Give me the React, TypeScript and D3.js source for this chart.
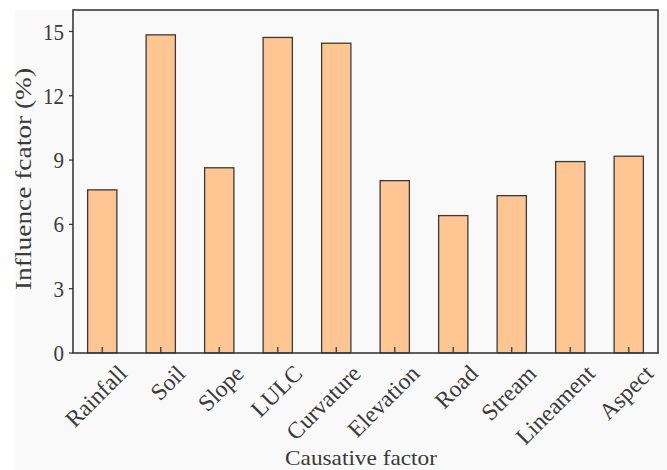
import * as d3 from "d3";
import { useRef, useEffect } from "react";

const categories = ["Rainfall", "Soil", "Slope", "LULC", "Curvature", "Elevation", "Road", "Stream", "Lineament", "Aspect"];
const values = [7.61, 14.84, 8.64, 14.72, 14.45, 8.04, 6.41, 7.34, 8.93, 9.18];
const yTicks = [0, 3, 6, 9, 12, 15];

const W = 667;
const H = 470;
const margin = { left: 73, right: 9, top: 10, bottom: 117 };

const App = () => {
  const ref = useRef<SVGSVGElement>(null);

  useEffect(() => {
    const svg = d3.select(ref.current);
    svg.selectAll("*").remove();

    const x0 = margin.left;
    const x1 = W - margin.right;
    const y0 = H - margin.bottom;
    const y1 = margin.top;

    const x = d3.scaleBand<string>()
      .domain(categories)
      .range([x0, x1])
      .paddingInner(0.5)
      .paddingOuter(0.25);

    const y = d3.scaleLinear().domain([0, 16]).range([y0, y1]);

    const font = "'Liberation Serif', 'Times New Roman', serif";
    const ink = "#3a3a3a";

    // background
    svg.append("rect").attr("width", W).attr("height", H).attr("fill", "#ffffff");
    svg.append("rect")
      .attr("x", 15).attr("y", y1)
      .attr("width", W - 15).attr("height", H - y1)
      .attr("fill", "#f9f9f9");

    // bars
    svg.append("g")
      .selectAll("rect")
      .data(values)
      .join("rect")
      .attr("x", (d, i) => x(categories[i])!)
      .attr("y", d => y(d))
      .attr("width", x.bandwidth())
      .attr("height", d => y(0) - y(d))
      .attr("fill", "#ffc592")
      .attr("stroke", ink)
      .attr("stroke-width", 1.3);

    // x ticks (inward)
    svg.append("g")
      .selectAll("line")
      .data(categories)
      .join("line")
      .attr("x1", d => x(d)! + x.bandwidth() / 2)
      .attr("x2", d => x(d)! + x.bandwidth() / 2)
      .attr("y1", y0)
      .attr("y2", y0 - 6)
      .attr("stroke", ink)
      .attr("stroke-width", 1.3);

    // y axis ticks (outward) and labels
    const yAxis = svg.append("g");
    yAxis.selectAll("line")
      .data(yTicks)
      .join("line")
      .attr("x1", x0 - 4)
      .attr("x2", x0)
      .attr("y1", d => y(d))
      .attr("y2", d => y(d))
      .attr("stroke", ink)
      .attr("stroke-width", 1.3);
    yAxis.selectAll("text")
      .data(yTicks)
      .join("text")
      .attr("transform", d => `translate(${x0 - 9},${y(d)}) scale(1,1.1)`)
      .attr("dy", "0.35em")
      .attr("text-anchor", "end")
      .attr("font-family", font)
      .attr("font-size", 21)
      .attr("fill", ink)
      .text(d => d);

    // frame
    svg.append("rect")
      .attr("x", x0).attr("y", y1)
      .attr("width", x1 - x0).attr("height", y0 - y1)
      .attr("fill", "none")
      .attr("stroke", ink)
      .attr("stroke-width", 1.6);

    // rotated category labels
    svg.append("g")
      .selectAll("text")
      .data(categories)
      .join("text")
      .attr("transform", d => `translate(${x(d)! + x.bandwidth() / 2 + 26},${y0 + 22}) rotate(-45)`)
      .attr("text-anchor", "end")
      .attr("font-family", font)
      .attr("font-size", 23.5)
      .attr("fill", ink)
      .text(d => d);

    // axis titles
    svg.append("text")
      .attr("x", 361)
      .attr("y", 465)
      .attr("text-anchor", "middle")
      .attr("font-family", font)
      .attr("font-size", 21)
      .attr("textLength", 152)
      .attr("lengthAdjust", "spacingAndGlyphs")
      .attr("fill", ink)
      .text("Causative factor");

    svg.append("text")
      .attr("transform", `translate(31,179) rotate(-90)`)
      .attr("text-anchor", "middle")
      .attr("font-family", font)
      .attr("font-size", 23)
      .attr("textLength", 222)
      .attr("lengthAdjust", "spacingAndGlyphs")
      .attr("fill", ink)
      .text("Influence fcator (%)");
  }, []);

  return (
    <svg
      ref={ref}
      width={W}
      height={H}
      style={{ position: "absolute", left: 0, top: 0 }}
    />
  );
};

export default App;
